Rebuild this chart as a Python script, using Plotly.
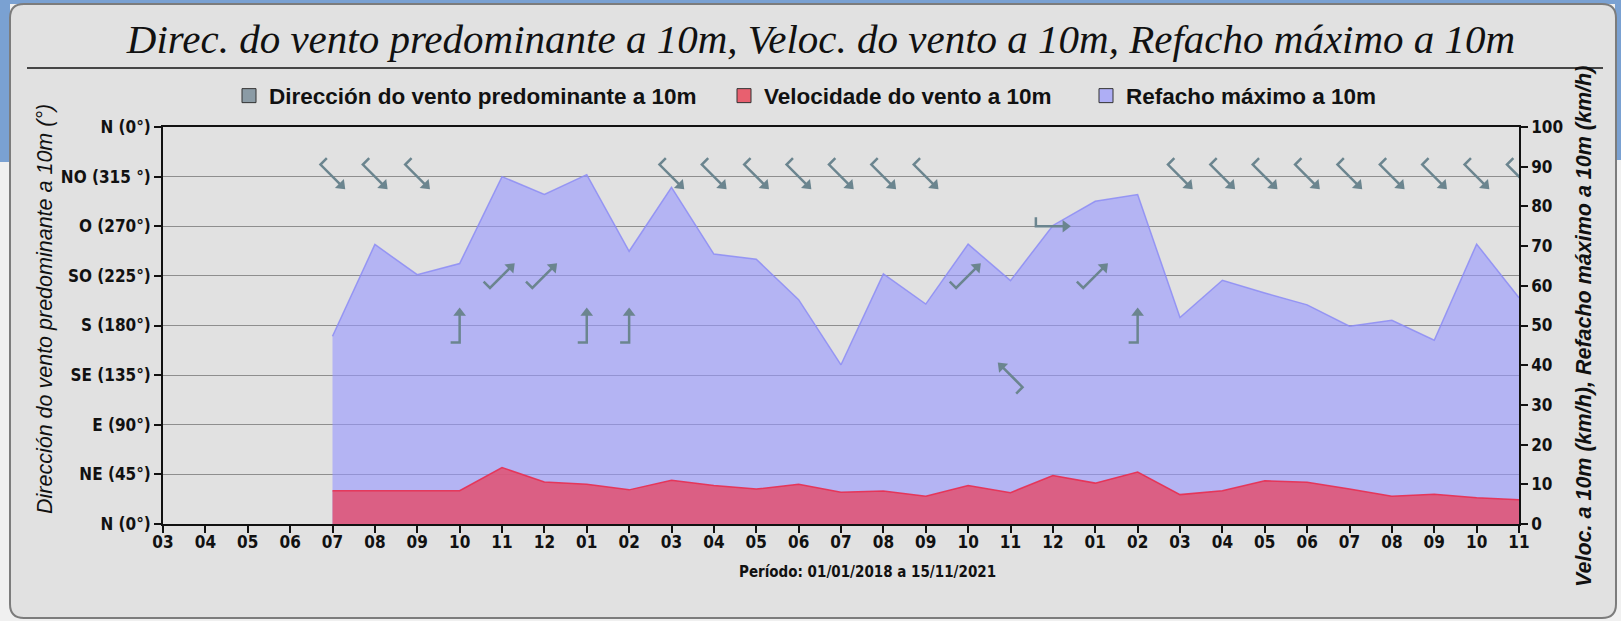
import math
import plotly.graph_objects as go

# ---------------- data ----------------
axis_months = ["03", "04", "05", "06", "07", "08", "09", "10", "11", "12",
               "01", "02", "03", "04", "05", "06", "07", "08", "09", "10", "11", "12",
               "01", "02", "03", "04", "05", "06", "07", "08", "09", "10", "11"]
first_data_month = 4  # data starts at the 5th month label ("07")

refacho = [47.3, 70.4, 62.8, 65.6, 87.5, 83.0, 88.0, 68.7, 84.8, 68.0, 66.7, 56.5, 40.1, 63.0,
           55.4, 70.5, 61.3, 75.2, 81.3, 83.0, 52.0, 61.4, 58.2, 55.2, 49.8, 51.3, 46.3, 70.5, 57.0]
velocidade = [8.4, 8.4, 8.4, 8.4, 14.2, 10.6, 10.0, 8.6, 11.0, 9.7, 8.8, 10.0, 8.0, 8.3,
              7.0, 9.7, 7.9, 12.2, 10.3, 13.1, 7.4, 8.4, 10.9, 10.5, 8.8, 7.0, 7.5, 6.6, 6.1]
direccion = [315, 315, 315, 180, 225, 225, 180, 180, 315, 315, 315, 315, 315, 315, 315,
             225, 135, 270, 225, 180, 315, 315, 315, 315, 315, 315, 315, 315, 315]

dir_tickvals = [0, 45, 90, 135, 180, 225, 270, 315, 360]
dir_ticktext = ["N (0°)", "NE (45°)", "E (90°)", "SE (135°)", "S (180°)",
                "SO (225°)", "O (270°)", "NO (315 °)", "N (0°)"]

x_idx = [first_data_month + k for k in range(len(refacho))]
x_ticks = list(range(len(axis_months)))

# ---------------- layout geometry ----------------
W, H = 1621, 621
ML, MR, MT, MB = 163, 102, 127, 97
PW, PH = W - ML - MR, H - MT - MB
XMIN, XMAX = 0, len(axis_months) - 1
px_x = PW / (XMAX - XMIN)
px_deg = PH / 360.0


def px2paper(px, py):
    return (px - ML) / PW, (H - MB - py) / PH


TICK_FONT = dict(family="Liberation Sans Narrow, Arial Narrow, DejaVu Sans Condensed, sans-serif",
                 size=17, color="#111111", weight=700)
GLYPH = "#6b858f"

fig = go.Figure()

# areas (right axis, km/h)
fig.add_trace(go.Scatter(x=x_idx, y=refacho, mode="lines", fill="tozeroy",
                         line=dict(color="rgba(140,140,245,0.85)", width=1.5),
                         fillcolor="rgba(150,150,255,0.6)", yaxis="y", showlegend=False,
                         name="Refacho máximo a 10m"))
fig.add_trace(go.Scatter(x=x_idx, y=velocidade, mode="lines", fill="tozeroy",
                         line=dict(color="rgba(232,45,80,0.9)", width=1.5),
                         fillcolor="rgba(226,80,112,0.85)", yaxis="y", showlegend=False,
                         name="Velocidade do vento a 10m"))

# direction glyphs (left axis, degrees)
L_HALF, BARB, HEAD_BACK = 17.0, 9.0, 4.5
gx, gy, hx, hy, hang = [], [], [], [], []
for xi, d in zip(x_idx, direccion):
    b = (d + 180) % 360
    ux, uy = math.sin(math.radians(b)), math.cos(math.radians(b))
    px_, py_ = -uy, ux  # CCW perpendicular
    tail = (xi - L_HALF * ux / px_x, d - L_HALF * uy / px_deg)
    shaft_end = (xi + (L_HALF - 5) * ux / px_x, d + (L_HALF - 5) * uy / px_deg)
    barb_end = (tail[0] + BARB * px_ / px_x, tail[1] + BARB * py_ / px_deg)
    gx += [barb_end[0], tail[0], shaft_end[0], None]
    gy += [barb_end[1], tail[1], shaft_end[1], None]
    hx.append(xi + (L_HALF - HEAD_BACK) * ux / px_x)
    hy.append(d + (L_HALF - HEAD_BACK) * uy / px_deg)
    hang.append(b)

fig.add_trace(go.Scatter(x=gx, y=gy, mode="lines", yaxis="y2", showlegend=False,
                         line=dict(color=GLYPH, width=2.5), hoverinfo="skip"))
fig.add_trace(go.Scatter(x=hx, y=hy, mode="markers", yaxis="y2", showlegend=False,
                         marker=dict(symbol="triangle-up", size=11, angle=hang, color=GLYPH,
                                     line=dict(width=0)),
                         hoverinfo="skip"))

# legend entries
leg_items = [("Dirección do vento predominante a 10m", "#8b9ba5", "legend"),
             ("Velocidade do vento a 10m", "#e8606f", "legend2"),
             ("Refacho máximo a 10m", "#aeaef5", "legend3")]
for name, col, lg in leg_items:
    fig.add_trace(go.Scatter(x=[None], y=[None], mode="markers", name=name, legend=lg,
                             marker=dict(symbol="square", size=14, color=col,
                                         line=dict(color="#333333", width=1))))

LEG_FONT = dict(family="Liberation Sans, Arial, sans-serif", size=22.5, color="#111111", weight=700)
leg_text_x = [271, 766, 1128]
legends = {}
for k, key in enumerate(["legend", "legend2", "legend3"]):
    lx, ly = px2paper(leg_text_x[k] - 42, 96)
    legends[key] = dict(x=lx, y=ly, xanchor="left", yanchor="middle", orientation="h",
                        bgcolor="rgba(0,0,0,0)", font=LEG_FONT, itemwidth=30,
                        tracegroupgap=0)


# background panel shapes
def rect(x0, y0, x1, y1, **kw):
    a0, b0 = px2paper(x0, y1)
    a1, b1 = px2paper(x1, y0)
    return dict(type="rect", xref="paper", yref="paper", x0=a0, y0=b0, x1=a1, y1=b1,
                layer="below", **kw)


def rounded(x0, y0, x1, y1, r):
    def P(px, py):
        a, b = px2paper(px, py)
        return f"{a:.5f},{b:.5f}"
    return (f"M {P(x0 + r, y0)} L {P(x1 - r, y0)} Q {P(x1, y0)} {P(x1, y0 + r)} "
            f"L {P(x1, y1 - r)} Q {P(x1, y1)} {P(x1 - r, y1)} L {P(x0 + r, y1)} "
            f"Q {P(x0, y1)} {P(x0, y1 - r)} L {P(x0, y0 + r)} Q {P(x0, y0)} {P(x0 + r, y0)} Z")


BLUE = "#7aa1d2"
shapes = [
    rect(0, 0, W, 4, fillcolor=BLUE, line=dict(width=0)),
    rect(0, 0, 10, 162, fillcolor=BLUE, line=dict(width=0)),
    rect(W - 6, 0, W, 160, fillcolor=BLUE, line=dict(width=0)),
    dict(type="path", xref="paper", yref="paper", layer="below",
         path=rounded(10, 4, 1616, 618, 14), fillcolor="#e1e1e1",
         line=dict(color="#7c7c7c", width=2)),
]
l0 = px2paper(27, 68)
l1 = px2paper(1603, 68)
shapes.append(dict(type="line", xref="paper", yref="paper", x0=l0[0], y0=l0[1], x1=l1[0], y1=l1[1],
                   line=dict(color="#111111", width=1.5), layer="above"))

annotations = []
ax_, ay_ = px2paper(45, 309)
annotations.append(dict(xref="paper", yref="paper", x=ax_, y=ay_, xanchor="center", yanchor="middle",
                        showarrow=False, textangle=-90,
                        text="<i>Dirección do vento predominante a 10m (°)</i>",
                        font=dict(family="Liberation Sans, Arial, sans-serif", size=21.5,
                                  color="#111111")))
ax_, ay_ = px2paper(1584, 327)
annotations.append(dict(xref="paper", yref="paper", x=ax_, y=ay_, xanchor="center", yanchor="middle",
                        showarrow=False, textangle=-90,
                        text="<i>Veloc. a 10m (km/h), Refacho máximo a 10m (km/h)</i>",
                        font=dict(family="Liberation Sans, Arial, sans-serif", size=21.5,
                                  color="#111111", weight=700)))
ax_, ay_ = px2paper(867, 572)
annotations.append(dict(xref="paper", yref="paper", x=ax_, y=ay_, xanchor="center", yanchor="middle",
                        showarrow=False, text="Período: 01/01/2018 a 15/11/2021",
                        font=dict(TICK_FONT, size=15)))

fig.update_layout(
    width=W, height=H,
    margin=dict(l=ML, r=MR, t=MT, b=MB),
    paper_bgcolor="#f0f0f0", plot_bgcolor="rgba(0,0,0,0)",
    title=dict(text="<i>Direc. do vento predominante a 10m, Veloc. do vento a 10m, Refacho máximo a 10m</i>",
               x=821 / W, xanchor="center", y=1 - 39 / H, yanchor="middle",
               font=dict(family="Liberation Serif, Times New Roman, serif", size=41, color="#111111")),
    xaxis=dict(range=[XMIN, XMAX], tickvals=x_ticks, ticktext=axis_months, showgrid=False,
               zeroline=False, showline=True, linecolor="#111111", linewidth=1.5, mirror=True,
               ticks="outside", ticklen=7, tickwidth=1.5, tickcolor="#111111", tickfont=TICK_FONT,
               ticklabelstandoff=-5),
    yaxis=dict(range=[0, 100], dtick=10, side="right", showgrid=False, zeroline=False,
               showline=True, linecolor="#111111", linewidth=1.5, ticks="outside", ticklen=7,
               tickwidth=1.5, tickcolor="#111111", tickfont=TICK_FONT),
    yaxis2=dict(range=[0, 360], overlaying="y", side="left", tickvals=dir_tickvals,
                ticktext=dir_ticktext, showgrid=True, gridcolor="#8e8e8e", gridwidth=1,
                zeroline=False, showline=True, linecolor="#111111", linewidth=1.5,
                ticks="outside", ticklen=7, tickwidth=1.5, tickcolor="#111111", tickfont=TICK_FONT),
    shapes=shapes, annotations=annotations,
    **legends,
)

fig.write_html("out.html", config={"displayModeBar": False},
               post_script="document.body.style.margin='0';document.body.style.overflow='hidden';")
